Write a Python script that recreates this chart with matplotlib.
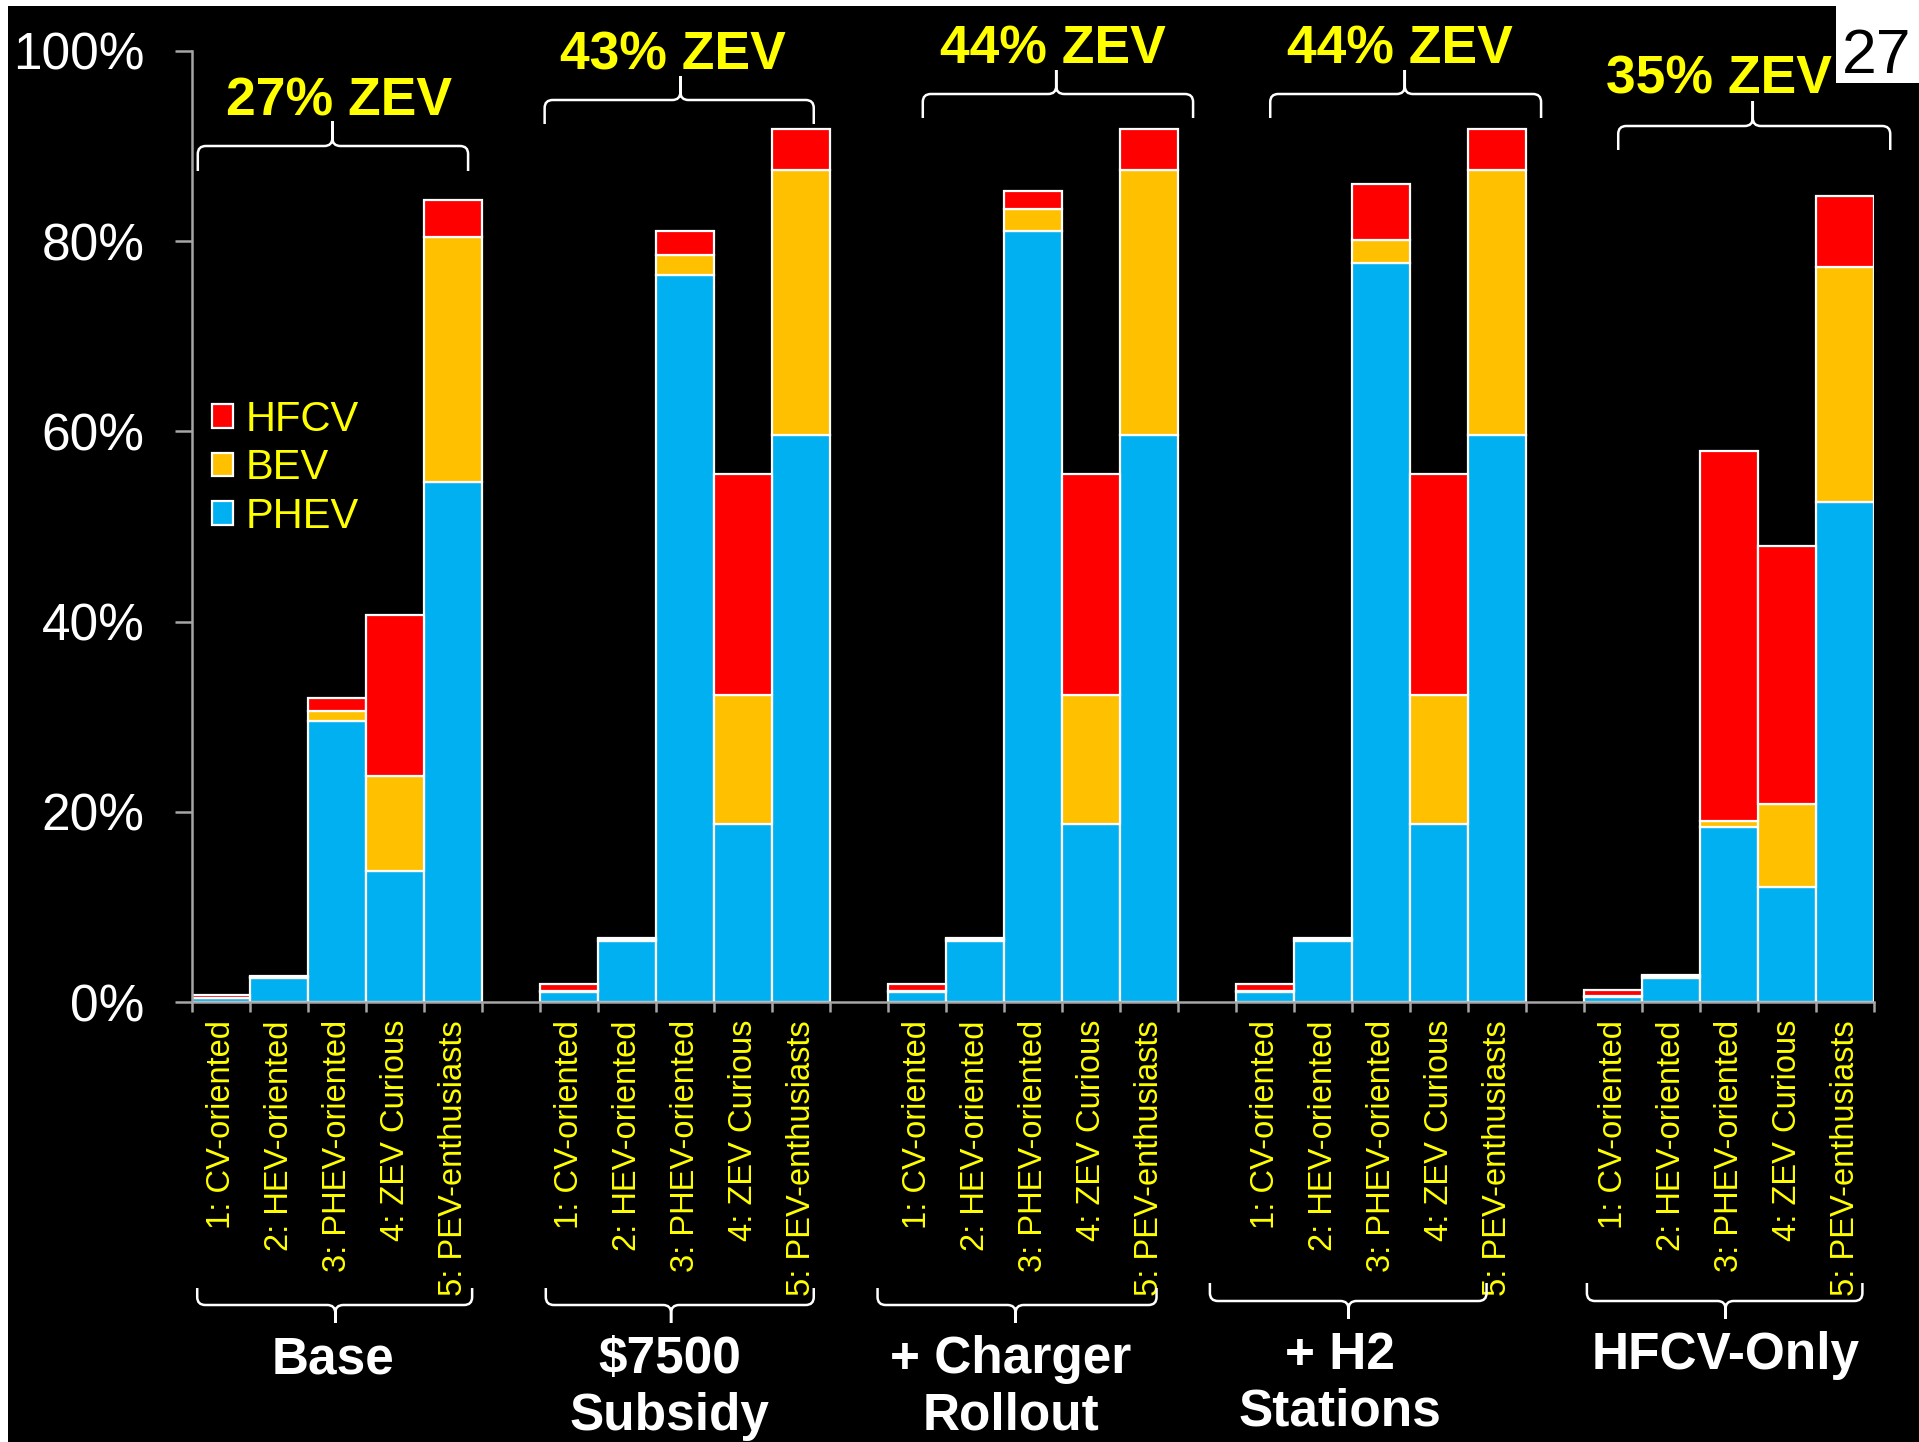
import matplotlib
matplotlib.use("Agg")
import matplotlib.pyplot as plt
from matplotlib.patches import Rectangle
from matplotlib.path import Path
from matplotlib.patches import PathPatch
from matplotlib.transforms import blended_transform_factory
import numpy as np

plt.rcParams['font.family'] = ['Liberation Sans', 'DejaVu Sans']

# data (share of buyers, %)
groups = ['Base', '$7500\nSubsidy', '+ Charger\nRollout', '+ H2\nStations', 'HFCV-Only']
segments = ['1: CV-oriented', '2: HEV-oriented', '3: PHEV-oriented',
            '4: ZEV Curious', '5: PEV-enthusiasts']
zev_labels = ['27% ZEV', '43% ZEV', '44% ZEV', '44% ZEV', '35% ZEV']

phev = [0.4, 2.5, 29.6, 13.8, 54.7,
        1.1, 6.4, 76.4, 18.7, 59.6,
        1.1, 6.4, 81.1, 18.7, 59.6,
        1.1, 6.4, 77.7, 18.7, 59.6,
        0.5, 2.5, 18.4, 12.1, 52.6]
bev = [0.05, 0.1, 1.0, 10.0, 25.7,
       0.1, 0.2, 2.2, 13.6, 27.9,
       0.1, 0.2, 2.3, 13.6, 27.9,
       0.1, 0.2, 2.4, 13.6, 27.9,
       0.1, 0.2, 0.6, 8.7, 24.7]
hfcv = [0.3, 0.1, 1.4, 16.9, 3.9,
        0.7, 0.1, 2.5, 23.2, 4.3,
        0.7, 0.1, 1.9, 23.2, 4.3,
        0.7, 0.1, 5.9, 23.2, 4.3,
        0.7, 0.1, 38.9, 27.1, 7.5]

BLUE = '#00B0F0'
GOLD = '#FFC000'
RED = '#FF0000'
YELLOW = '#FFFF00'
GREY = '#a6a6a6'

W, H = 1919, 1442
fig = plt.figure(figsize=(W / 100, H / 100), dpi=100)
fig.patch.set_facecolor('white')
fig.patches.append(Rectangle((8 / W, 0), 1, 1 - 6 / H, transform=fig.transFigure,
                             facecolor='black', edgecolor='none', zorder=-5))

ax = fig.add_axes([192 / W, (H - 1002) / H, 1682 / W, 951 / H])
ax.set_facecolor('black')

# 5 bars per scenario, one empty slot between scenarios
x = np.array([g * 6 + i for g in range(len(groups)) for i in range(len(segments))])
phev = np.array(phev)
bev = np.array(bev)
hfcv = np.array(hfcv)

kw = dict(width=1.0, edgecolor='white', linewidth=1.6)
b1 = ax.bar(x, phev, color=BLUE, label='PHEV', **kw)
b2 = ax.bar(x, bev, bottom=phev, color=GOLD, label='BEV', **kw)
b3 = ax.bar(x, hfcv, bottom=phev + bev, color=RED, label='HFCV', **kw)

ax.set_xlim(-0.5, 28.5)
ax.set_ylim(0, 100)
ax.set_yticks(range(0, 101, 20))
ax.set_yticklabels(['%d%%' % v for v in range(0, 101, 20)])
ax.tick_params(axis='y', colors=GREY, labelcolor='white', labelsize=37,
               length=12, width=1.8, pad=22)

ax.set_xticks(x)
ax.set_xticklabels(segments * len(groups), rotation=90, color=YELLOW, fontsize=23.5)
ax.tick_params(axis='x', which='major', length=0, pad=13)
ax.set_xticks(np.arange(-0.5, 29, 1.0), minor=True)
ax.tick_params(axis='x', which='minor', length=7, width=1.8, color=GREY)

for s in ['top', 'right']:
    ax.spines[s].set_visible(False)
for s in ['left', 'bottom']:
    ax.spines[s].set_color(GREY)
    ax.spines[s].set_linewidth(1.8)

leg = ax.legend(handles=[b3, b2, b1], loc='upper left',
                bbox_to_anchor=(212 / W, 1 - 400 / H), bbox_transform=fig.transFigure,
                frameon=False, fontsize=30, labelcolor=YELLOW, borderpad=0,
                borderaxespad=0, handlelength=0.5, handleheight=0.5,
                handletextpad=0.3, labelspacing=0.2)

# curly braces, x in data units, y in pixels from the top of the figure
tr = blended_transform_factory(ax.transData, fig.transFigure)


def brace(x0, x1, xc, y_tip, y_bar, y_pt):
    fy = lambda v: 1 - v / H
    rx = 0.14
    ry = 8 if y_tip > y_bar else -8
    verts, codes = [], []
    for xa, sgn in [(x0, 1), (x1, -1)]:
        verts += [(xa, fy(y_tip)), (xa, fy(y_bar + ry)), (xa, fy(y_bar)),
                  (xa + sgn * rx, fy(y_bar)), (xc - sgn * rx, fy(y_bar)),
                  (xc, fy(y_bar)), (xc, fy(y_bar - ry)), (xc, fy(y_pt))]
        codes += [Path.MOVETO, Path.LINETO, Path.CURVE3, Path.CURVE3, Path.LINETO,
                  Path.CURVE3, Path.CURVE3, Path.LINETO]
    p = PathPatch(Path(verts, codes), transform=tr, facecolor='none',
                  edgecolor='white', linewidth=1.8, clip_on=False)
    fig.add_artist(p)


top_braces = [(-0.40, 4.26, 1.92, 171, 146, 121),
              (5.58, 10.22, 7.92, 124, 100, 76),
              (12.1, 16.76, 14.4, 118, 94, 70),
              (18.09, 22.76, 20.41, 118, 94, 70),
              (24.09, 28.78, 26.41, 150, 126, 101)]
zev_pos = [(2.03, 115), (7.79, 70), (14.34, 63), (20.33, 63), (25.83, 94)]
bottom_braces = [(-0.41, 4.33, 1.97, 1288, 1305, 1323),
                 (5.6, 10.22, 7.76, 1288, 1305, 1323),
                 (11.32, 16.13, 13.7, 1288, 1305, 1323),
                 (17.05, 21.82, 19.44, 1283, 1301, 1319),
                 (23.55, 28.3, 25.94, 1283, 1301, 1319)]
group_pos = [(1.93, 1373), (7.73, 1373), (13.62, 1373), (19.3, 1369), (25.95, 1369)]

for i in range(len(groups)):
    brace(*top_braces[i])
    brace(*bottom_braces[i])
    fig.text(zev_pos[i][0], 1 - zev_pos[i][1] / H, zev_labels[i], transform=tr,
             ha='center', va='baseline', fontsize=38.5, fontweight='bold', color=YELLOW)
    gx, gy = group_pos[i]
    for k, line in enumerate(groups[i].split('\n')):
        fig.text(gx, 1 - (gy + 57 * k) / H, line, transform=tr,
                 ha='center', va='baseline', fontsize=37, fontweight='bold',
                 color='white')

# slide number box
fig.patches.append(Rectangle((1836 / W, 1 - 83 / H), (W - 1836) / W, 83 / H,
                             transform=fig.transFigure, facecolor='white',
                             edgecolor='none', zorder=5))
fig.text(1877 / W, 1 - 73 / H, '27', ha='center', va='baseline', fontsize=45,
         color='black', zorder=6)

fig.savefig('out.png', dpi=100, facecolor=fig.get_facecolor())
